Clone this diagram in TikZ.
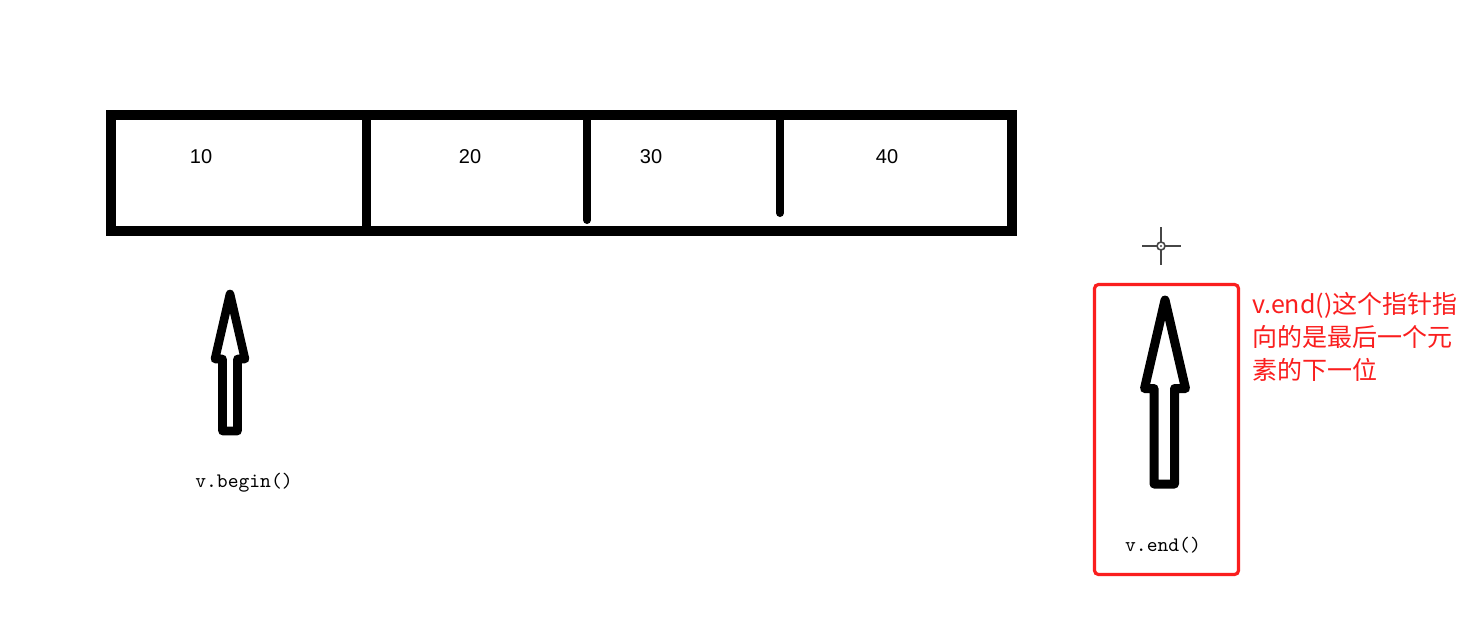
\documentclass[tikz,border=0pt]{standalone}
\usepackage{fontspec}
\setmainfont{Liberation Sans}
\newfontfamily\cjk{Noto Sans CJK SC}
\definecolor{annred}{RGB}{250,30,30}
\definecolor{crossgray}{RGB}{70,70,70}
\begin{document}
\begin{tikzpicture}[x=0.5pt,y=-0.5pt,
  cellval/.style={font=\fontsize{10}{12}\selectfont, inner sep=0pt},
  codelbl/.style={font=\ttfamily\fontsize{10.3}{12}\selectfont, inner sep=0pt},
  boxline/.style={line width=5pt, draw=black},
  divline/.style={line width=4pt, draw=black, line cap=round},
  arrowshape/.style={line width=4.3pt, draw=black, line join=round},
  note/.style={font=\cjk\fontsize{12.5}{16.5}\selectfont, text=annred, align=left, inner sep=0pt},
  redbox/.style={draw=annred, line width=1.6pt, rounded corners=2pt},
  cross/.style={draw=crossgray, line width=0.8pt}]
\useasboundingbox (0,0) rectangle (1470,633);
\fill[white] (0,0) rectangle (1470,633);
% array
\draw[boxline] (111,115) rectangle (1012,231);
\coordinate (d1t) at (366,115); \coordinate (d1b) at (366,231);
\coordinate (d2t) at (587,115); \coordinate (d2b) at (587,220);
\coordinate (d3t) at (780,115); \coordinate (d3b) at (780,213);
\draw[line width=4.5pt] (d1t) -- (d1b);
\draw[divline] (d2t) -- (d2b);
\draw[divline] (d3t) -- (d3b);
\node[cellval] (v10) at (201,157) {10};
\node[cellval] (v20) at (470,157) {20};
\node[cellval] (v30) at (651,157) {30};
\node[cellval] (v40) at (887,157) {40};
% begin arrow
\draw[arrowshape] (222.5,431) -- (222.5,359) -- (215,359) -- (230,294) -- (245,359) -- (237.5,359) -- (237.5,431) -- cycle;
\node[codelbl] (beg) at (244,483) {v.begin()};
% crosshair
\coordinate (cc) at (1161,246);
\draw[cross] (1142,246) -- (1157,246);
\draw[cross] (1165,246) -- (1181,246);
\draw[cross] (1161,227) -- (1161,242);
\draw[cross] (1161,250) -- (1161,265);
\draw[cross] (cc) circle[radius=4];
\fill[crossgray] (cc) circle[radius=1.2];
% end arrow
\draw[redbox] (1094.5,284.5) rectangle (1238.5,574.5);
\draw[arrowshape, line width=4.5pt] (1154,484) -- (1154,388.5) -- (1144.5,388.5) -- (1165,300) -- (1185.5,388.5) -- (1174.5,388.5) -- (1174.5,484) -- cycle;
\node[codelbl] (end) at (1163,545) {v.end()};
\node[note, anchor=north west] (nt) at (1252,292) {v.end()这个指针指\\向的是最后一个元\\素的下一位};
\end{tikzpicture}
\end{document}
